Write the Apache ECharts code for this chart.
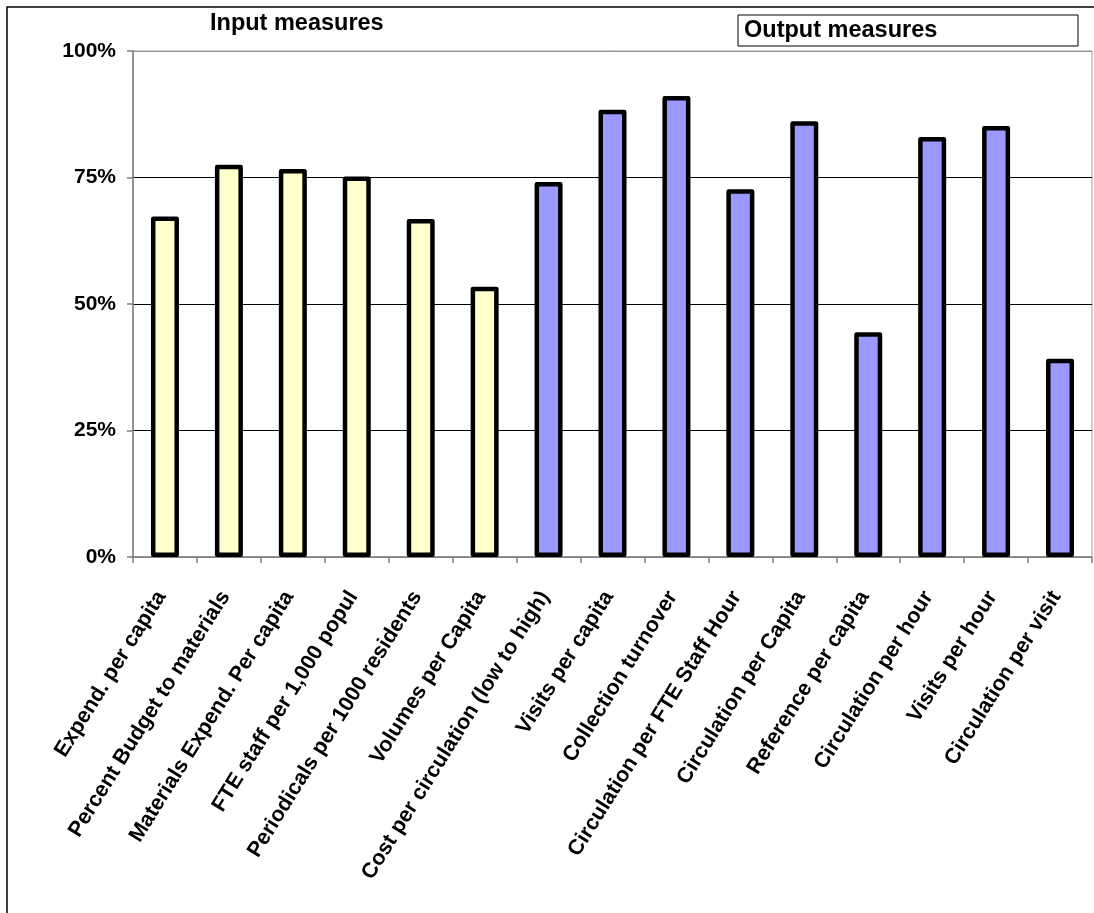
<!DOCTYPE html>
<html>
<head>
<meta charset="utf-8">
<script src="https://cdn.jsdelivr.net/npm/echarts@6/dist/echarts.min.js"></script>
<style>
html,body{margin:0;padding:0;background:#fff;}
#chart{width:1094px;height:913px;}
</style>
</head>
<body>
<div id="chart"></div>
<script>
const inputCategories = ['Expend. per capita','Percent Budget to materials','Materials Expend. Per capita','FTE staff per 1,000 popul','Periodicals per 1000 residents','Volumes per Capita'];
const outputCategories = ['Cost per circulation (low to high)','Visits per capita','Collection turnover','Circulation per FTE Staff Hour','Circulation per Capita','Reference per capita','Circulation per hour','Visits per hour','Circulation per visit'];
const inputValues = [67.3, 77.5, 76.7, 75.2, 66.8, 53.4];
const outputValues = [74.1, 88.4, 91.1, 72.7, 86.1, 44.4, 83.0, 85.2, 39.2];
const yTicks = [0, 25, 50, 75, 100];

const categories = inputCategories.concat(outputCategories);
const inputColor = '#FFFFCC';
const outputColor = '#9999FF';
const barData = inputValues.map(v => ({value: v, itemStyle: {color: inputColor}}))
  .concat(outputValues.map(v => ({value: v, itemStyle: {color: outputColor}})));

const FONT = '"Liberation Sans", Arial, sans-serif';
const chart = echarts.init(document.getElementById('chart'), null, {renderer: 'canvas'});
chart.setOption({
  animation: false,
  backgroundColor: '#ffffff',
  title: [{
    text: 'Input measures',
    left: 210, top: 12,
    padding: 0,
    textStyle: {fontFamily: FONT, fontWeight: 'bold', fontSize: 23.5, color: '#000'}
  }],
  graphic: [
    {type: 'rect', shape: {x: 7, y: 7, width: 1200, height: 1000}, style: {fill: null, stroke: '#000', lineWidth: 1.5}, silent: true, z: -1},
    {type: 'rect', shape: {x: 738, y: 15, width: 340, height: 31}, style: {fill: '#fff', stroke: '#000', lineWidth: 1}, z: 10},
    {type: 'text', x: 744, y: 31, style: {text: 'Output measures', fill: '#000', font: 'bold 23.5px ' + FONT, textVerticalAlign: 'middle'}, z: 11}
  ],
  grid: {left: 133, right: 2, top: 51, bottom: 356, show: true, borderColor: '#a0a0a0', borderWidth: 1},
  xAxis: {
    type: 'category',
    data: categories,
    axisLine: {lineStyle: {color: '#808080', width: 1.5}},
    axisTick: {show: true, length: 6, lineStyle: {color: '#808080', width: 1.5}},
    axisLabel: {interval: 0, rotate: 58, margin: 30, padding: [0, 7, 7, 0], color: '#000', fontFamily: FONT, fontWeight: 'bold', fontSize: 21.5}
  },
  yAxis: {
    type: 'value',
    min: yTicks[0], max: yTicks[yTicks.length - 1], interval: 25,
    axisLine: {show: true, lineStyle: {color: '#808080', width: 1.5}},
    axisTick: {show: true, length: 6, lineStyle: {color: '#808080', width: 1.5}},
    axisLabel: {margin: 17, color: '#000', fontFamily: FONT, fontWeight: 'bold', fontSize: 21, formatter: v => v + '%'},
    splitLine: {show: true, lineStyle: {color: ['#808080', '#000', '#000', '#000', '#909090'], width: 1}}
  },
  series: [{
    type: 'bar',
    data: barData,
    barWidth: 28,
    itemStyle: {borderColor: '#000', borderWidth: 4.5, borderJoin: 'round'}
  }]
});
</script>
</body>
</html>
